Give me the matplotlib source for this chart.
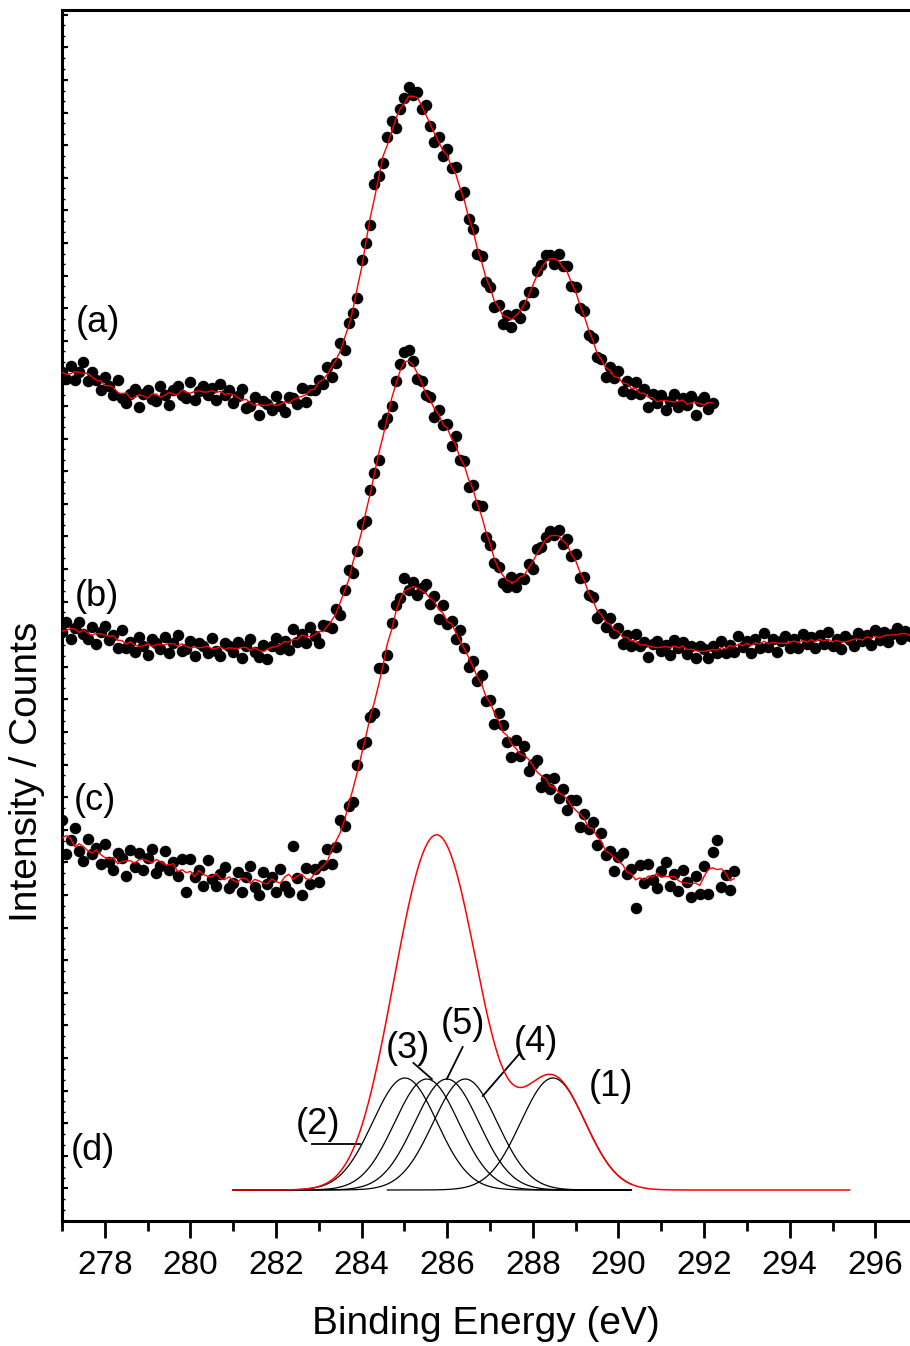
import numpy as np
import pandas as pd
import matplotlib
matplotlib.use('Agg')
import matplotlib.pyplot as plt
from matplotlib.ticker import MultipleLocator, NullFormatter

plt.rcParams['font.family'] = ['Liberation Sans', 'DejaVu Sans']

# measured C1s spectra, 0.1 eV step starting at 277.0 eV (offset for stacking)
e_start = 277.0
e_step = 0.1

counts_a = [
    849, 842, 855, 841, 849, 859, 840, 849, 841, 831,
    844, 835, 826, 841, 823, 818, 827, 832, 814, 827,
    831, 822, 820, 835, 826, 816, 831, 835, 826, 823,
    839, 821, 830, 835, 826, 833, 821, 837, 826, 831,
    818, 825, 832, 813, 815, 824, 806, 820, 817, 811,
    825, 815, 809, 824, 823, 817, 833, 819, 831, 831,
    841, 837, 854, 844, 858, 878, 871, 898, 908, 923,
    961, 978, 996, 1037, 1045, 1058, 1084, 1100, 1093, 1112,
    1123, 1134, 1126, 1129, 1112, 1116, 1095, 1079, 1084, 1065,
    1072, 1053, 1054, 1026, 1029, 1002, 992, 967, 965, 939,
    934, 914, 916, 897, 906, 894, 907, 903, 916, 929,
    929, 950, 956, 966, 966, 957, 967, 955, 955, 935,
    934, 913, 910, 886, 883, 864, 862, 844, 854, 843,
    850, 830, 840, 827, 839, 827, 832, 814, 827, 818,
    826, 811, 820, 827, 814, 823, 816, 825, 806, 820,
    824, 812, 818,
]

counts_b = [
    589, 599, 582, 593, 599, 587, 582, 594, 577, 589,
    595, 581, 586, 573, 591, 573, 579, 569, 584, 575,
    566, 582, 578, 572, 584, 568, 578, 586, 570, 572,
    580, 565, 578, 575, 568, 583, 570, 565, 578, 575,
    569, 579, 563, 575, 582, 569, 564, 576, 562, 575,
    583, 572, 580, 571, 592, 579, 587, 578, 594, 585,
    578, 596, 595, 593, 612, 606, 631, 651, 648, 670,
    697, 700, 731, 748, 761, 797, 803, 815, 840, 857,
    869, 871, 860, 842, 840, 826, 824, 804, 811, 796,
    797, 775, 785, 761, 760, 734, 736, 716, 715, 684,
    676, 658, 654, 638, 634, 644, 634, 643, 642, 657,
    652, 672, 674, 684, 690, 686, 691, 677, 682, 665,
    667, 643, 644, 626, 624, 603, 607, 594, 603, 588,
    593, 577, 586, 575, 587, 575, 579, 564, 577, 580,
    570, 576, 566, 581, 573, 579, 567, 575, 563, 575,
    572, 563, 575, 568, 580, 568, 576, 569, 585, 574,
    580, 568, 582, 573, 588, 574, 582, 569, 580, 585,
    573, 582, 573, 587, 577, 584, 573, 586, 577, 589,
    575, 582, 572, 585, 581, 575, 588, 580, 586, 576,
    591, 581, 589, 579, 587, 593, 582, 590, 585,
]

counts_c = [
    401, 367, 381, 393, 370, 360, 382, 367, 373, 357,
    377, 359, 351, 368, 363, 345, 371, 354, 368, 351,
    363, 372, 348, 355, 370, 351, 359, 345, 362, 329,
    362, 344, 351, 335, 361, 342, 335, 347, 354, 333,
    338, 349, 329, 344, 355, 334, 326, 349, 337, 344,
    329, 352, 335, 329, 375, 343, 326, 353, 337, 352,
    339, 356, 372, 357, 374, 401, 395, 415, 419, 456,
    477, 479, 504, 508, 553, 553, 566, 598, 616, 623,
    643, 631, 639, 626, 633, 637, 617, 625, 602, 616,
    597, 600, 582, 591, 573, 554, 560, 540, 546, 520,
    521, 497, 508, 496, 479, 464, 481, 465, 475, 450,
    457, 461, 434, 442, 432, 443, 423, 432, 411, 421,
    421, 394, 407, 392, 399, 376, 388, 366, 370, 350,
    364, 368, 347, 352, 313, 356, 338, 357, 341, 333,
    350, 359, 335, 347, 330, 351, 339, 324, 345, 327,
    355, 327, 369, 381, 334, 346, 331, 350,
]

# fitted components for (d): labels, centres (eV), heights, fwhm (eV)
comp_labels = ['(1)', '(2)', '(3)', '(4)', '(5)']
comp_centers = [288.47, 285.01, 285.52, 286.42, 285.99]
comp_heights = [112, 112, 111, 111, 111]
comp_fwhm = [1.77, 1.77, 1.77, 1.77, 1.77]
comp_from = [284.6, 281.0, 281.0, 281.0, 281.0]
comp_to = [290.3, 290.3, 290.3, 290.3, 290.3]
baseline_d = 31
envelope_range = (281.0, 295.4)

fig = plt.figure(figsize=(9.10, 13.46), dpi=100)
ax = fig.add_axes([62 / 910, 125 / 1346, 848 / 910, 1211 / 1346])

for counts in [counts_a, counts_b, counts_c]:
    energy = e_start + e_step * np.arange(len(counts))
    ax.plot(energy, counts, 'o', color='black', markersize=8.3, markeredgewidth=0, zorder=2)
    smooth = pd.Series(counts).rolling(5, center=True, min_periods=1).mean()
    ax.plot(energy, smooth, '-', color='red', linewidth=1.0, zorder=3)


def gauss(x, c, h, fwhm):
    s = fwhm / 2.3548
    return h * np.exp(-(x - c) ** 2 / (2 * s * s))


for c, h, w, lo, hi in zip(comp_centers, comp_heights, comp_fwhm, comp_from, comp_to):
    xx = np.linspace(lo, hi, 400)
    ax.plot(xx, baseline_d + gauss(xx, c, h, w), color='black', linewidth=0.9, zorder=2)

xe = np.linspace(envelope_range[0], envelope_range[1], 800)
env = baseline_d + sum(gauss(xe, c, h, w) for c, h, w in zip(comp_centers, comp_heights, comp_fwhm))
ax.plot(xe, env, color='red', linewidth=1.1, zorder=3)

# labels
fs = 26
ax.text(277.84, 899, '(a)', fontsize=fs, ha='center', va='center')
ax.text(277.82, 624, '(b)', fontsize=fs, ha='center', va='center')
ax.text(277.77, 421, '(c)', fontsize=fs, ha='center', va='center')
ax.text(277.72, 71, '(d)', fontsize=fs, ha='center', va='center')

ax.text(282.98, 96, '(2)', fontsize=fs, ha='center', va='center')
ax.plot([282.84, 283.96], [77, 77], color='black', linewidth=1.3)
ax.text(285.08, 173, '(3)', fontsize=fs, ha='center', va='center')
ax.plot([285.21, 285.64], [158, 142], color='black', linewidth=1.3)
ax.text(286.37, 196, '(5)', fontsize=fs, ha='center', va='center')
ax.plot([286.36, 285.99], [174, 142], color='black', linewidth=1.3)
ax.text(288.07, 179, '(4)', fontsize=fs, ha='center', va='center')
ax.plot([287.70, 286.83], [168, 125], color='black', linewidth=1.3)
ax.text(289.83, 134, '(1)', fontsize=fs, ha='center', va='center')

ax.set_xlim(277.0, 296.81)
ax.set_ylim(0, 1211)

ax.xaxis.set_major_locator(MultipleLocator(2))
ax.xaxis.set_minor_locator(MultipleLocator(1))
ax.tick_params(axis='x', which='major', direction='out', length=12, width=2, labelsize=24, pad=9)
ax.tick_params(axis='x', which='minor', direction='out', length=7, width=2)
ax.yaxis.set_major_locator(MultipleLocator(32.6))
ax.yaxis.set_minor_locator(MultipleLocator(10.87))
ax.yaxis.set_major_formatter(NullFormatter())
ax.tick_params(axis='y', which='major', direction='in', length=4, width=1.5)
ax.tick_params(axis='y', which='minor', direction='in', length=2, width=1)

for side in ['left', 'bottom', 'top']:
    ax.spines[side].set_linewidth(2.2)
ax.spines['right'].set_visible(False)

ax.set_xlabel('Binding Energy (eV)', fontsize=28, labelpad=18)
ax.set_ylabel('Intensity / Counts', fontsize=28)
ax.yaxis.set_label_coords(-0.02, 0.371)

fig.savefig('out.png', dpi=100)
